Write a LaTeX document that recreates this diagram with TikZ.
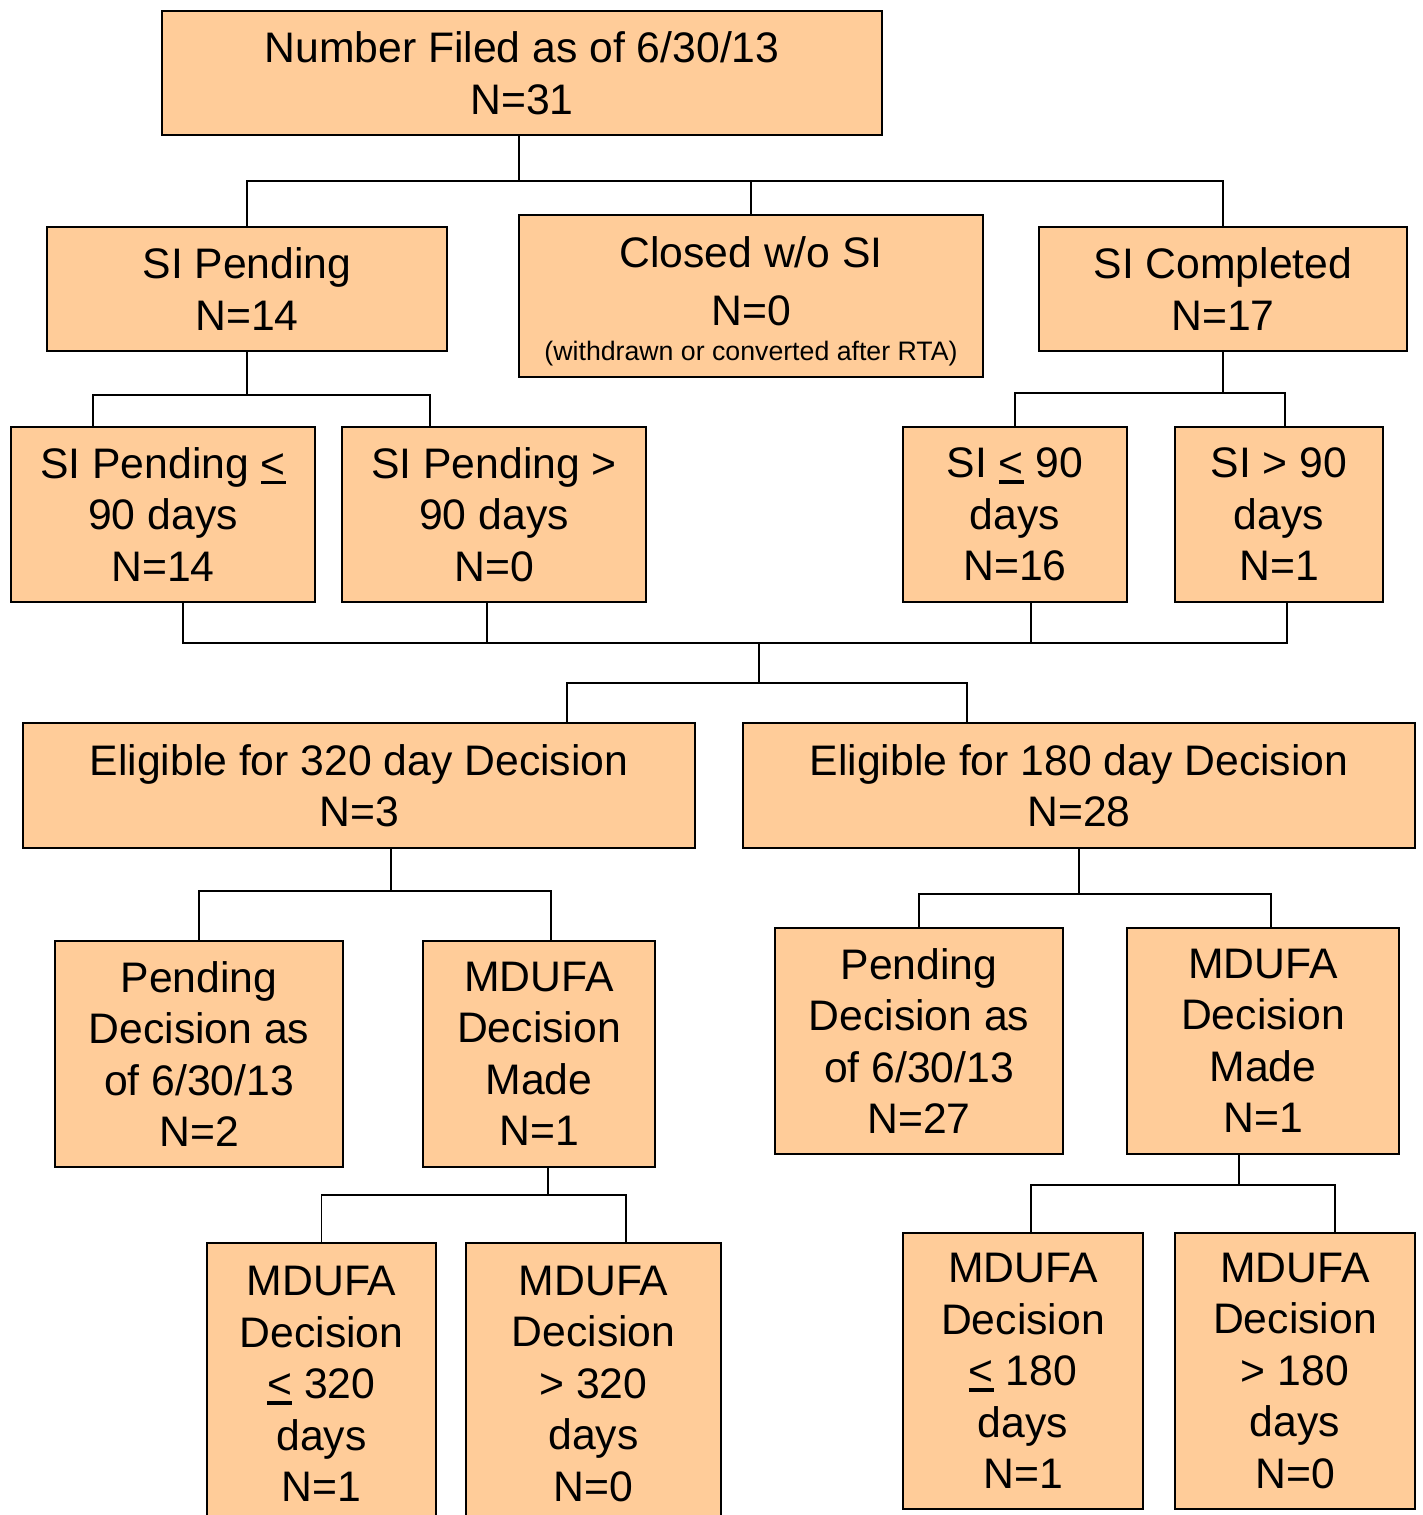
\documentclass[tikz,border=0pt]{standalone}
\usepackage{fontspec}
\setmainfont{Liberation Sans}
% less-than sign with a heavy underline, read as "less than or equal"
\newcommand\lequl{\setbox0\hbox{<}\rlap{\rule[-6pt]{\wd0}{3.5pt}}\box0}
\begin{document}
\begin{tikzpicture}[x=1pt,y=-1pt,
  box/.style={draw=black,line width=2pt,fill=boxfill,inner sep=0pt,align=center,
    font=\fontsize{42.7}{51.5}\selectfont},
  link/.style={draw=black,line width=1.6pt}]
\definecolor{boxfill}{HTML}{FFCC99}
\path[use as bounding box] (0,0) rectangle (1423,1515);
\clip (0,0) rectangle (1423,1515);
\fill[white] (0,0) rectangle (1423,1515);

% first row
\node[box,minimum width=720pt,minimum height=124pt] (top) at (522,73)
  {Number Filed as of 6/30/13\\N=31};
\node[box,minimum width=400pt,minimum height=124pt] (sip) at (247,289)
  {SI Pending\\N=14};
\node[box,minimum width=464pt,minimum height=162pt] (closed) at (751,296)
  {\rule{0pt}{41pt}Closed w/o SI\\[7pt]N=0\\[-17pt]{\fontsize{26.7}{30}\selectfont(withdrawn or converted after RTA)}};
\node[box,minimum width=368pt,minimum height=124pt] (sic) at (1223,289)
  {SI Completed\\N=17};

% SI duration split
\node[box,minimum width=304pt,minimum height=175pt] (sip1) at (163,514.5)
  {SI Pending \lequl\\90 days\\N=14};
\node[box,minimum width=304pt,minimum height=175pt] (sip2) at (494,514.5)
  {SI Pending >\\90 days\\N=0};
\node[box,minimum width=224pt,minimum height=175pt] (sic1) at (1015,514.5)
  {SI \lequl{} 90\\days\\N=16};
\node[box,minimum width=208pt,minimum height=175pt] (sic2) at (1279,514.5)
  {SI > 90\\days\\N=1};

% decision eligibility
\node[box,minimum width=672pt,minimum height=125pt] (e320) at (359,785.5)
  {Eligible for 320 day Decision\\N=3};
\node[box,minimum width=672pt,minimum height=125pt] (e180) at (1079,785.5)
  {Eligible for 180 day Decision\\N=28};

% 320 day branch
\node[box,minimum width=288pt,minimum height=226pt] (pd1) at (199,1054)
  {Pending\\Decision as\\of 6/30/13\\N=2};
\node[box,minimum width=232pt,minimum height=226pt] (md1) at (539,1054)
  {MDUFA\\Decision\\Made\\N=1};
\node[box,minimum width=229pt,minimum height=282pt] (a320) at (321.5,1384)
  {MDUFA\\Decision\\\lequl{} 320\\days\\N=1};
\node[box,minimum width=255pt,minimum height=282pt] (b320) at (593.5,1384)
  {MDUFA\\Decision\\> 320\\days\\N=0};

% 180 day branch
\node[box,minimum width=288pt,minimum height=226pt] (pd2) at (919,1041)
  {Pending\\Decision as\\of 6/30/13\\N=27};
\node[box,minimum width=272pt,minimum height=226pt] (md2) at (1263,1041)
  {MDUFA\\Decision\\Made\\N=1};
\node[box,minimum width=240pt,minimum height=276pt] (a180) at (1023,1371)
  {MDUFA\\Decision\\\lequl{} 180\\days\\N=1};
\node[box,minimum width=240pt,minimum height=276pt] (b180) at (1295,1371)
  {MDUFA\\Decision\\> 180\\days\\N=0};

% junction points of the connector buses
\coordinate (j1) at (519,181);
\coordinate (j2) at (247,395);
\coordinate (j3) at (1223,393);
\coordinate (j4) at (759,643);
\coordinate (j5) at (759,683);
\coordinate (j6) at (391,891);
\coordinate (j7) at (548,1195);
\coordinate (j8) at (1079,894);
\coordinate (j9) at (1239,1185);

% top level
\draw[link] (top.south -| j1) -- (j1);
\draw[link] (sip.north) -- (sip.north |- j1) -- (sic.north |- j1) -- (sic.north);
\draw[link] (closed.north) -- (closed.north |- j1);

% SI pending split
\draw[link] (sip.south) -- (j2);
\draw[link] ([xshift=-70pt]sip1.north) -- ([xshift=-70pt]sip1.north |- j2)
  -- ([xshift=-64pt]sip2.north |- j2) -- ([xshift=-64pt]sip2.north);

% SI completed split
\draw[link] (sic.south) -- (j3);
\draw[link] (sic1.north) -- (sic1.north |- j3)
  -- ([xshift=6pt]sic2.north |- j3) -- ([xshift=6pt]sic2.north);

% gathering of the four duration boxes
\draw[link] ([xshift=20pt]sip1.south) -- ([xshift=20pt]sip1.south |- j4)
  -- ([xshift=8pt]sic2.south |- j4) -- ([xshift=8pt]sic2.south);
\draw[link] ([xshift=-7pt]sip2.south) -- ([xshift=-7pt]sip2.south |- j4);
\draw[link] ([xshift=16pt]sic1.south) -- ([xshift=16pt]sic1.south |- j4);
\draw[link] (j4) -- (j5);
\draw[link] ([xshift=208pt]e320.north) -- ([xshift=208pt]e320.north |- j5)
  -- ([xshift=-112pt]e180.north |- j5) -- ([xshift=-112pt]e180.north);

% 320 day branch
\draw[link] ([xshift=32pt]e320.south) -- (j6);
\draw[link] (pd1.north) -- (pd1.north |- j6)
  -- ([xshift=12pt]md1.north |- j6) -- ([xshift=12pt]md1.north);
\draw[link] ([xshift=9pt]md1.south) -- (j7);
\draw[link] (a320.north) -- (a320.north |- j7)
  -- ([xshift=32.5pt]b320.north |- j7) -- ([xshift=32.5pt]b320.north);

% 180 day branch
\draw[link] (e180.south) -- (j8);
\draw[link] (pd2.north) -- (pd2.north |- j8)
  -- ([xshift=8pt]md2.north |- j8) -- ([xshift=8pt]md2.north);
\draw[link] ([xshift=-24pt]md2.south) -- (j9);
\draw[link] ([xshift=8pt]a180.north) -- ([xshift=8pt]a180.north |- j9)
  -- ([xshift=40pt]b180.north |- j9) -- ([xshift=40pt]b180.north);
\end{tikzpicture}
\end{document}
